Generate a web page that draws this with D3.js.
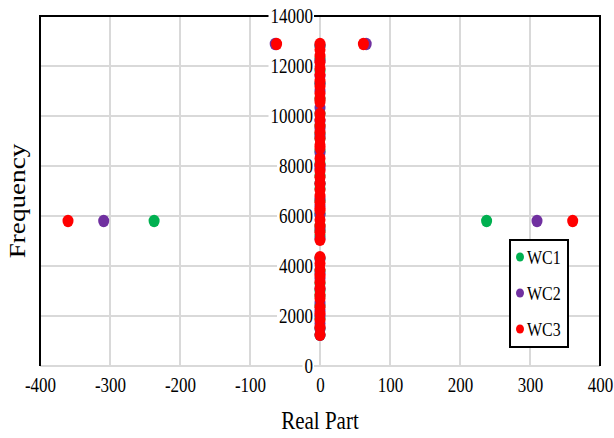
<!DOCTYPE html>
<html>
<head>
<meta charset="utf-8">
<script src="https://cdn.jsdelivr.net/npm/d3@7/dist/d3.min.js"></script>
<style>
  html, body { margin: 0; padding: 0; background: #fff; }
  svg { display: block; }
  svg text { font-family: "Liberation Serif", "Times New Roman", "DejaVu Serif", serif; }
</style>
</head>
<body>
<svg id="chart" width="614" height="438"></svg>
<script>
// Tick values
const xTicks = [-400, -300, -200, -100, 0, 100, 200, 300, 400];
const yTicks = [0, 2000, 4000, 6000, 8000, 10000, 12000, 14000];

// Series names and colours
const seriesNames = ["WC1", "WC2", "WC3"];
const seriesColors = ["#00b050", "#7030a0", "#ff0000"];

// Real parts and frequencies for each wall configuration
const wc1Real = [-237, 238, 0, 0, 0, 0, 0, 0, 0, 0, 0, 0, 0, 0, 0, 0, 0, 0, 0, 0, 0, 0, 0, 0, 0, 0, 0, 0, 0, 0];
const wc1Freq = [5800, 5800, 12800, 12300, 11800, 11300, 10700, 10100, 9600, 9100, 8600, 8100, 7600, 7100, 6600, 6100, 5600, 5200, 4300, 3800, 3300, 2800, 2400, 1900, 1500, 1250, 9300, 7300, 5400, 3000];

const wc2Real = [-309, 310, -64, 66, 0, 0, 0, 0, 0, 0, 0, 0, 0, 0, 0, 0, 0, 0, 0, 0, 0, 0, 0, 0, 0, 0, 0, 0, 0, 0, 0, 0];
const wc2Freq = [5800, 5800, 12880, 12880, 12800, 12200, 11600, 11000, 10320, 9800, 9200, 8520, 7900, 7300, 6700, 6040, 5500, 5100, 4300, 3700, 3100, 2520, 2000, 1500, 1250, 11300, 9500, 8000, 6400, 3500, 2200, 1700];

const wc3Real = [-360, 361, -62, 62, 0, 0, 0, 0, 0, 0, 0, 0, 0, 0, 0, 0, 0, 0, 0, 0, 0, 0, 0, 0, 0, 0, 0, 0, 0, 0, 0, 0, 0, 0, 0, 0, 0, 0, 0, 0, 0, 0, 0, 0, 0, 0, 0, 0, 0];
const wc3Freq = [5800, 5800, 12880, 12880, 12880, 12650, 12400, 12150, 11900, 11650, 11400, 11180, 10900, 10680, 10560, 10080, 9850, 9600, 9350, 9100, 8850, 8720, 8300, 8050, 7800, 7550, 7300, 7050, 6800, 6550, 6300, 6220, 5850, 5600, 5350, 5050, 4350, 4100, 3850, 3600, 3350, 3100, 2850, 2700, 2350, 2100, 1850, 1550, 1250];

const series = [
  { name: seriesNames[0], color: seriesColors[0], real: wc1Real, freq: wc1Freq },
  { name: seriesNames[1], color: seriesColors[1], real: wc2Real, freq: wc2Freq },
  { name: seriesNames[2], color: seriesColors[2], real: wc3Real, freq: wc3Freq }
];

const svg = d3.select("#chart");
const plotLeft = 40, plotRight = 600, plotTop = 16, plotBottom = 366;
const TALL = 1.18; // vertical stretch of the lettering

const x = d3.scaleLinear().domain([-400, 400]).range([plotLeft, plotRight]);
const y = d3.scaleLinear().domain([0, 14000]).range([plotBottom, plotTop]);

const gridColor = "#d9d9d9";
const plainNumber = d => String(d);

// Stretch a text element vertically about its own centre line
function stretch(node) {
  const bb = node.getBBox();
  const cy = bb.y + bb.height / 2;
  const tf = `translate(0,${cy}) scale(1,${TALL}) translate(0,${-cy})`;
  d3.select(node).attr("transform", tf);
  return { bb, tf };
}

// Gridlines
svg.append("g").selectAll("line").data(xTicks).join("line")
  .attr("x1", d => x(d)).attr("x2", d => x(d))
  .attr("y1", plotTop).attr("y2", plotBottom)
  .attr("stroke", gridColor).attr("stroke-width", 2);
svg.append("g").selectAll("line").data(yTicks).join("line")
  .attr("x1", plotLeft).attr("x2", plotRight)
  .attr("y1", d => y(d)).attr("y2", d => y(d))
  .attr("stroke", gridColor).attr("stroke-width", 2);

// Frame: dark top, left and right edges
svg.append("line").attr("x1", plotLeft).attr("x2", plotRight).attr("y1", plotTop).attr("y2", plotTop)
  .attr("stroke", "#000").attr("stroke-width", 2);
svg.append("line").attr("x1", plotLeft).attr("x2", plotLeft).attr("y1", plotTop - 1).attr("y2", plotBottom)
  .attr("stroke", "#000").attr("stroke-width", 2);
svg.append("line").attr("x1", plotRight).attr("x2", plotRight).attr("y1", plotTop - 1).attr("y2", plotBottom)
  .attr("stroke", "#000").attr("stroke-width", 2);

// Y axis labels sit at the zero line with a white backing
const yAxis = d3.axisLeft(y).tickValues(yTicks).tickSize(0).tickPadding(6).tickFormat(plainNumber);
const yg = svg.append("g").attr("transform", `translate(${x(0) - 1},0)`).call(yAxis)
  .attr("font-family", null).attr("font-size", 17);
yg.select(".domain").remove();
yg.selectAll(".tick text").attr("fill", "#000");
yg.selectAll(".tick").each(function() {
  const t = d3.select(this).select("text");
  const { bb, tf } = stretch(t.node());
  d3.select(this).insert("rect", "text")
    .attr("x", bb.x - 2).attr("y", bb.y + 2)
    .attr("width", bb.width + 3).attr("height", bb.height - 4)
    .attr("transform", tf)
    .attr("fill", "#fff");
});

// X axis labels below the plot
const xAxis = d3.axisBottom(x).tickValues(xTicks).tickSize(0).tickPadding(13).tickFormat(plainNumber);
const xg = svg.append("g").attr("transform", `translate(0,${plotBottom})`).call(xAxis)
  .attr("font-family", null).attr("font-size", 17);
xg.select(".domain").remove();
xg.selectAll(".tick text").attr("fill", "#000").each(function() { stretch(this); });

// Points
series.forEach(s => {
  svg.append("g").selectAll("ellipse")
    .data(s.real.map((r, i) => ({ r, f: s.freq[i] })))
    .join("ellipse")
    .attr("cx", d => x(d.r)).attr("cy", d => y(d.f))
    .attr("rx", 5.5).attr("ry", 6.2)
    .attr("fill", s.color);
});

// Axis titles
const xTitle = svg.append("text").attr("x", x(0)).attr("y", 428)
  .attr("text-anchor", "middle").attr("font-size", 21).text("Real Part");
stretch(xTitle.node());
svg.append("text")
  .attr("transform", `translate(25,${(plotTop + plotBottom) / 2 + 10}) rotate(-90) scale(${TALL},1)`)
  .attr("text-anchor", "middle").attr("font-size", 23).text("Frequency");

// Legend
const lg = svg.append("g");
lg.append("rect").attr("x", 510).attr("y", 240).attr("width", 58).attr("height", 107)
  .attr("fill", "#fff").attr("stroke", "#000").attr("stroke-width", 2);
const legendY = [257, 293, 329];
series.forEach((s, i) => {
  lg.append("ellipse").attr("cx", 520).attr("cy", legendY[i]).attr("rx", 4).attr("ry", 4.5).attr("fill", s.color);
  const t = lg.append("text").attr("x", 527).attr("y", legendY[i] + 6).attr("font-size", 16).text(s.name);
  stretch(t.node());
});
</script>
</body>
</html>
